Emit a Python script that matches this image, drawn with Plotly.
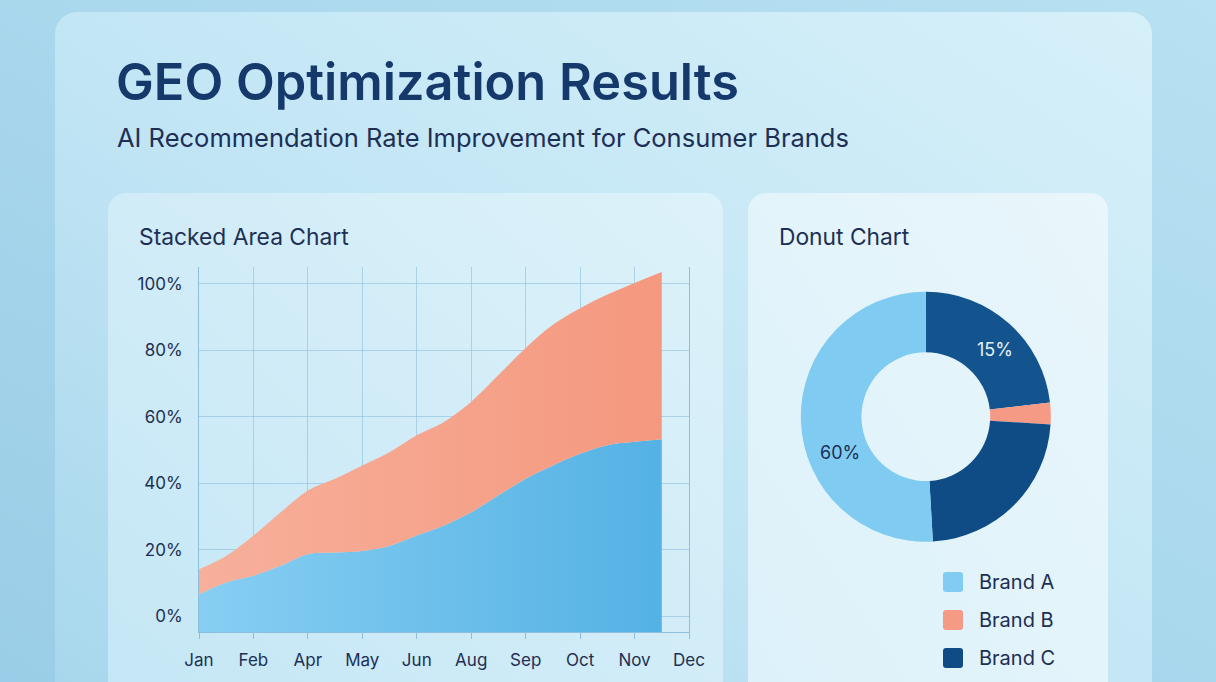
import base64
import numpy as np
import plotly.graph_objects as go

W, H = 1216, 682

# ---------------- data ----------------
months = ["Jan", "Feb", "Apr", "May", "Jun", "Aug", "Sep", "Oct", "Nov", "Dec"]
# sample positions along the month axis (index of month label, half-month steps)
sample_pos = [0, 0.5, 1, 1.5, 2, 2.5, 3, 3.5, 4, 4.5, 5, 5.5, 6, 6.5, 7, 7.5, 8, 8.5]
brand_a_share = [6.5, 10.1, 12.1, 15.1, 18.6, 19.1, 19.6, 21.1, 24.2, 27.2,
                 31.2, 36.3, 41.3, 45.3, 48.8, 51.4, 52.4, 53.2]
brand_b_share = [7.6, 8.0, 12.1, 16.1, 19.2, 22.2, 25.7, 28.2, 30.2, 31.2,
                 33.3, 36.2, 39.3, 42.3, 43.8, 45.3, 47.8, 50.3]
y_tick_vals = [0, 20, 40, 60, 80, 100]
y_tick_text = ["0%", "20%", "40%", "60%", "80%", "100%"]

# donut slices, clockwise from 12 o'clock
donut_labels = ["Brand C (upper)", "Brand B", "Brand C (lower)", "Brand A"]
donut_values = [23.2, 2.8, 23.1, 50.9]
donut_colors = ["#13548e", "#f59a85", "#0f4c86", "#7fcbf1"]
donut_text_a = "60%"
donut_text_c = "15%"

legend_labels = ["Brand A", "Brand B", "Brand C"]
legend_colors = ["#80ccf2", "#f59a85", "#0f4c85"]

# ---------------- helpers ----------------
def px(x):
    return x / W

def py(y):
    return 1 - y / H

NAVY = "#16396c"
TEXT = "#1d2f55"

# ---------------- background (svg) ----------------
svg = f'''<svg xmlns="http://www.w3.org/2000/svg" width="{W}" height="{H}" viewBox="0 0 {W} {H}">
<defs>
<linearGradient id="bg" x1="0" y1="1" x2="1" y2="0">
<stop offset="0" stop-color="#9acde7"/><stop offset="1" stop-color="#b8e1f2"/></linearGradient>
<linearGradient id="panel" x1="0" y1="1" x2="1" y2="0">
<stop offset="0" stop-color="#a6d6ec"/><stop offset="0.5" stop-color="#c3e6f5"/><stop offset="1" stop-color="#d6f0f9"/></linearGradient>
<linearGradient id="cardL" x1="0" y1="1" x2="1" y2="0">
<stop offset="0" stop-color="#c4e6f5"/><stop offset="1" stop-color="#ddf2fa"/></linearGradient>
<linearGradient id="cardR" x1="0" y1="1" x2="1" y2="0">
<stop offset="0" stop-color="#dcf1fa"/><stop offset="1" stop-color="#e9f6fb"/></linearGradient>
</defs>
<rect width="{W}" height="{H}" fill="url(#bg)"/>
<rect x="55" y="12" width="1097" height="720" rx="22" fill="url(#panel)"/>
<rect x="108" y="193" width="615" height="540" rx="18" fill="url(#cardL)"/>
<rect x="748" y="193" width="360" height="540" rx="18" fill="url(#cardR)"/>
</svg>'''
svg_uri = "data:image/svg+xml;base64," + base64.b64encode(svg.encode()).decode()

# ---------------- figure ----------------
fig = go.Figure()

a = np.array(brand_a_share)
b = np.array(brand_b_share)
total = a + b
y_floor = -4.8

fig.add_trace(go.Scatter(
    x=sample_pos, y=[y_floor] * len(sample_pos), mode="lines",
    line=dict(width=0, color="rgba(0,0,0,0)"), hoverinfo="skip", showlegend=False))
fig.add_trace(go.Scatter(
    x=sample_pos, y=a, mode="lines", name="Brand A",
    line=dict(width=0, shape="spline", smoothing=1, color="#6fc1ec"),
    fill="tonexty",
    fillgradient=dict(type="horizontal", colorscale=[[0, "#87cef2"], [1, "#54b2e4"]]),
    showlegend=False))
fig.add_trace(go.Scatter(
    x=sample_pos, y=total, mode="lines", name="Brand B",
    line=dict(width=0, shape="spline", smoothing=1, color="#f5a28b"),
    fill="tonexty",
    fillgradient=dict(type="horizontal", colorscale=[[0, "#f7b09b"], [1, "#f5987f"]]),
    showlegend=False))

fig.add_trace(go.Pie(
    labels=donut_labels, values=donut_values, hole=0.515, sort=False,
    direction="clockwise", rotation=0,
    marker=dict(colors=donut_colors, line=dict(width=0)),
    textinfo="none", showlegend=False,
    domain=dict(x=[px(925.8 - 125), px(925.8 + 125)],
                y=[py(416.7 + 125), py(416.7 - 125)])))

grid = "rgba(140,190,220,0.6)"
axline = "rgba(130,182,215,0.85)"
fig.update_layout(
    width=W, height=H,
    margin=dict(l=0, r=0, t=0, b=0, pad=0, autoexpand=False),
    paper_bgcolor="#a9d8ee",
    plot_bgcolor="rgba(0,0,0,0)",
    font=dict(family="Inter, 'Noto Sans', sans-serif", color=TEXT),
    showlegend=False,
    xaxis=dict(domain=[px(199), px(689)], range=[0, 9], automargin=False,
               tickmode="array", tickvals=list(range(len(months))), ticktext=months,
               showgrid=True, gridcolor=grid, gridwidth=1,
               showline=True, linecolor=axline, linewidth=1,
               ticks="outside", ticklen=6, tickcolor=axline,
               ticklabelstandoff=7,
               tickfont=dict(size=17, color=TEXT), zeroline=False, fixedrange=True),
    yaxis=dict(domain=[py(632), py(267)], range=[y_floor, 105], automargin=False,
               tickmode="array", tickvals=y_tick_vals, ticktext=y_tick_text,
               showgrid=True, gridcolor=grid, gridwidth=1,
               showline=True, mirror=True, linecolor=axline, linewidth=1,
               ticks="", ticklabelstandoff=12,
               tickfont=dict(size=17, color=TEXT), zeroline=False, fixedrange=True),
    images=[dict(source=svg_uri, xref="paper", yref="paper", x=0, y=1,
                 sizex=1, sizey=1, xanchor="left", yanchor="top",
                 sizing="stretch", layer="below")],
)

annotations = [
    dict(text="GEO Optimization Results", x=px(114), y=py(81), xanchor="left", yanchor="middle",
         font=dict(size=50.5, color=NAVY, weight=600)),
    dict(text="AI Recommendation Rate Improvement for Consumer Brands", x=px(115), y=py(137),
         xanchor="left", yanchor="middle", font=dict(size=25.5, color=TEXT)),
    dict(text="Stacked Area Chart", x=px(137), y=py(236), xanchor="left", yanchor="middle",
         font=dict(size=22.8, color=TEXT)),
    dict(text="Donut Chart", x=px(777), y=py(236), xanchor="left", yanchor="middle",
         font=dict(size=22.8, color=TEXT)),
    dict(text=donut_text_c, x=px(995), y=py(349), xanchor="center", yanchor="middle",
         font=dict(size=18, color="#e6f0f8")),
    dict(text=donut_text_a, x=px(840), y=py(452), xanchor="center", yanchor="middle",
         font=dict(size=18, color=TEXT)),
]
shapes = []
for i, (lab, col) in enumerate(zip(legend_labels, legend_colors)):
    cy = 582 + 38 * i
    x0, x1, y0, y1 = 943, 963, cy - 10, cy + 10
    r = 3
    path = (f"M {px(x0 + r)} {py(y0)} L {px(x1 - r)} {py(y0)} Q {px(x1)} {py(y0)} {px(x1)} {py(y0 + r)} "
            f"L {px(x1)} {py(y1 - r)} Q {px(x1)} {py(y1)} {px(x1 - r)} {py(y1)} "
            f"L {px(x0 + r)} {py(y1)} Q {px(x0)} {py(y1)} {px(x0)} {py(y1 - r)} "
            f"L {px(x0)} {py(y0 + r)} Q {px(x0)} {py(y0)} {px(x0 + r)} {py(y0)} Z")
    shapes.append(dict(type="path", xref="paper", yref="paper", path=path,
                       fillcolor=col, line=dict(width=0)))
    annotations.append(dict(text=lab, x=px(977), y=py(cy), xanchor="left", yanchor="middle",
                            font=dict(size=20, color=TEXT)))

for ann in annotations:
    ann.update(xref="paper", yref="paper", showarrow=False)
fig.update_layout(annotations=annotations, shapes=shapes)

fig.write_html("out.html")
